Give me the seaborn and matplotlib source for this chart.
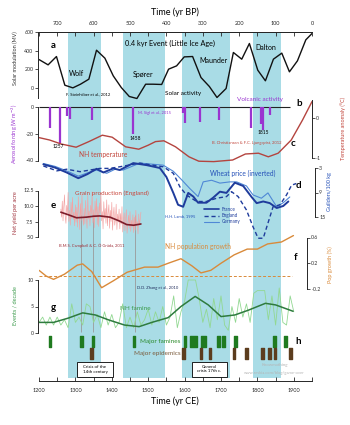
import matplotlib
matplotlib.use('Agg')
import matplotlib.pyplot as plt
import seaborn as sns
from matplotlib.lines import Line2D
from matplotlib.patches import Rectangle

# ---------------- data ----------------
band_start = [1280, 1430, 1592, 1788]
band_end = [1370, 1545, 1725, 1865]
band_names = ["Wolf", "Spører", "Maunder", "Dalton"]

solar_year = [1200, 1225, 1248, 1271, 1293, 1314, 1337, 1358, 1381, 1404, 1426, 1448, 1469, 1493,
              1513, 1537, 1556, 1578, 1599, 1622, 1645, 1668, 1689, 1714, 1734, 1757, 1778, 1801,
              1822, 1844, 1867, 1888, 1910, 1933, 1950]
solar_mod = [305, 247, 338, 25, -4, 36, 91, 407, 320, 127, 0, -98, -120, 36,
             36, 33, 200, 236, 334, 338, 109, 11, -109, -11, 382, 309, 480, 189,
             73, 309, 375, 171, 291, 520, 589]

volc_year = [1230, 1257, 1276, 1286, 1345, 1458, 1595, 1601, 1641, 1695, 1783, 1809, 1815, 1835]
volc_forcing = [-16, -27, -7, -9, -9.5, -20, -4.5, -12, -11, -9.5, -15.5, -13, -17, -6]

temp_year = [1200, 1229, 1261, 1302, 1337, 1374, 1401, 1438, 1474, 1500, 1520, 1543, 1575, 1612,
             1639, 1680, 1732, 1767, 1803, 1830, 1857, 1893, 1924, 1950]
temp_anom = [-0.49, -0.55, -0.65, -0.73, -0.59, -0.43, -0.48, -0.72, -0.78, -0.68, -0.59, -0.57,
             -0.72, -0.97, -1.08, -1.09, -1.05, -0.90, -0.88, -0.97, -0.88, -0.55, -0.05, 0.41]

wheat_countries = ["France", "England", "Germany"]
france_year = [1212, 1244, 1276, 1308, 1333, 1358, 1377, 1404, 1422, 1459, 1496, 1532, 1550, 1569,
               1582, 1596, 1610, 1624, 1637, 1660, 1678, 1697, 1715, 1738, 1761, 1784, 1798, 1816,
               1834, 1853, 1871, 1885]
france_price = [2.1, 2.9, 4.1, 5.5, 4.5, 3.2, 4.1, 3.1, 3.5, 1.8, 2.3, 3.0, 5.2, 9.1,
                12.0, 12.5, 9.1, 10.0, 11.5, 11.5, 10.3, 8.8, 9.1, 6.6, 7.4, 10.1, 11.6, 11.2,
                11.6, 12.8, 12.3, 11.2]
england_year = [1212, 1249, 1276, 1313, 1340, 1367, 1395, 1422, 1477, 1541, 1569, 1587, 1605, 1633,
                1660, 1688, 1715, 1729, 1747, 1770, 1788, 1802, 1816, 1829, 1843, 1862, 1880, 1894,
                1907]
england_price = [2.5, 3.7, 3.3, 3.9, 3.5, 3.1, 3.1, 2.7, 1.8, 2.7, 4.3, 7.6, 9.6, 11.2,
                 11.2, 10.4, 10.0, 8.8, 10.0, 13.3, 17.4, 20.2, 20.2, 16.5, 12.5, 12.0, 9.6, 7.2,
                 6.8]
germany_year = [1212, 1244, 1276, 1308, 1336, 1358, 1386, 1409, 1431, 1477, 1541, 1569, 1592, 1614,
                1637, 1651, 1674, 1697, 1724, 1743, 1770, 1788, 1811, 1829, 1853, 1871, 1889]
germany_price = [1.9, 2.6, 3.7, 5.0, 4.1, 3.5, 4.3, 3.3, 3.5, 1.8, 2.3, 3.8, 5.9, 8.0,
                 10.0, 6.4, 6.0, 6.7, 6.4, 6.4, 7.4, 9.6, 10.4, 9.1, 12.5, 11.5, 10.1]

grain_year = list(range(1260, 1481, 2))
grain_yield = [9.5, 8.2, 10.8, 7.6, 9.9, 11.8, 8.4, 7.2, 10.1, 8.8, 12.2, 7.5, 9.3, 6.9, 10.6, 8.0,
               11.4, 7.8, 9.0, 6.8, 10.2,
               7.4, 9.8, 6.6, 11.5, 8.9, 6.2, 10.4, 7.7, 12.0, 8.5, 6.9, 9.6, 7.1, 10.9, 8.2, 6.4,
               11.8, 7.9, 9.2, 6.8,
               10.1, 8.6, 12.3, 7.3, 9.4, 6.5, 10.8, 8.1, 11.2, 7.0, 9.9, 6.7, 10.5, 8.8, 12.1, 7.6,
               9.1, 6.3, 10.7, 8.0,
               9.6, 7.2, 11.0, 6.8, 8.9, 10.2, 6.4, 9.3, 7.5, 10.6, 6.1, 8.4, 9.8, 6.9, 7.8, 10.3,
               6.2, 8.7, 7.4, 9.5,
               6.3, 8.8, 7.1, 9.9, 5.8, 7.6, 8.9, 6.0, 7.9, 9.4, 5.6, 7.2, 8.5, 6.4, 9.1, 5.9,
               7.7, 6.6, 8.6, 5.7,
               8.2, 6.1, 9.3, 6.8, 7.5, 5.5, 8.7, 6.9, 7.8, 9.0]
grain_smooth_year = [1260, 1280, 1303, 1330, 1350, 1367, 1395, 1420, 1441, 1460, 1480]
grain_smooth = [9.0, 8.6, 8.1, 8.2, 8.35, 8.4, 8.2, 7.6, 7.0, 6.9, 7.1]

pop_year = [1200, 1220, 1240, 1270, 1305, 1320, 1345, 1372, 1405, 1442, 1490, 1527, 1555, 1590,
            1620, 1645, 1672, 1700, 1736, 1772, 1800, 1828, 1866, 1899]
pop_growth = [0.09, 0.0, -0.05, 0.03, 0.17, 0.19, 0.07, -0.18, -0.07, 0.06, 0.14, 0.14, 0.2, 0.27,
              0.16, 0.05, 0.09, 0.2, 0.33, 0.42, 0.42, 0.5, 0.53, 0.63]

famine_decade = list(range(1200, 1901, 10))
famine_events = [2.0, 3.0, 1.5, 3.0, 1.5, 3.0, 1.5, 2.5, 1.0, 5.5, 2.0, 3.0, 1.5, 5.5, 5.0, 2.0,
                 3.5, 1.0, 4.0, 1.5, 3.5, 1.0, 2.0, 5.5, 1.0, 3.0, 1.0, 4.0, 1.5, 2.5, 4.5, 1.5,
                 4.0, 2.0, 5.0, 1.5, 3.0, 7.0, 1.0, 4.0, 6.0, 10.0, 10.0, 10.0, 6.5, 2.0, 4.5, 1.0,
                 6.5, 2.5, 7.0, 1.5, 0.5, 5.0, 2.0, 6.5, 3.0, 5.5, 2.0, 7.5, 8.0, 8.0, 8.0, 2.5,
                 7.0, 1.5, 8.5, 2.0, 1.5, 7.0, 4.0]
famine_smooth_year = [1200, 1240, 1280, 1320, 1355, 1390, 1435, 1475, 1510, 1555, 1590, 1629, 1665,
                      1700, 1738, 1775, 1822, 1850, 1898]
famine_smooth = [2.0, 2.0, 2.8, 3.8, 3.4, 2.5, 1.5, 1.2, 2.0, 2.9, 5.0, 6.9, 5.3,
                 3.1, 3.4, 4.3, 5.6, 5.3, 4.1]

major_famine_start = [1228, 1314, 1346, 1459, 1597, 1616, 1645, 1690, 1704, 1737, 1844, 1874]
major_famine_end = [1234, 1320, 1352, 1465, 1603, 1633, 1660, 1696, 1710, 1743, 1850, 1880]
epidemic_start = [1341, 1594, 1641, 1666, 1733, 1767, 1811, 1830, 1845, 1888]
epidemic_end = [1347, 1600, 1647, 1672, 1739, 1773, 1817, 1836, 1851, 1894]
crisis_years = [1315, 1348, 1463]

ce_ticks = [1200, 1300, 1400, 1500, 1600, 1700, 1800, 1900]
bp_ticks = [700, 600, 500, 400, 300, 200, 100, 0]

# ---------------- style ----------------
sns.set_theme(style='ticks')
plt.rcParams['font.family'] = ['Lato', 'DejaVu Sans']
plt.rcParams['axes.linewidth'] = 0.7

W, H = 350, 425
XL, XR = 39, 312
fig = plt.figure(figsize=(3.5, 4.25), dpi=100)
fig.patch.set_facecolor('white')

BAND = '#a9dce6'
PURPLE = '#9a34d0'
TRED = '#b4443f'
BLUE_D = '#1f3c9c'
BLUE_L = '#4f88d6'
GR_L = '#f3a3a3'
GR_D = '#7d1c2a'
ORANGE = '#d98a3a'
GREEN_L = '#92d892'
GREEN_D = '#2e7b3e'


def T(px, py, s, size=4.5, color='black', **kw):
    fig.text(px / W, 1 - py / H, s, ha='center', va='center', fontsize=size, color=color, **kw)


# background axis: bands + time axes (y in pixel units)
bg = fig.add_axes([XL / W, 1 - 381 / H, (XR - XL) / W, (381 - 31.5) / H])
bg.set_xlim(1200, 1950)
bg.set_ylim(381, 31.5)
for s, e in zip(band_start, band_end):
    bg.axvspan(s, e, ymin=0.008, ymax=1, color=BAND, lw=0, zorder=0)
bg.spines['left'].set_visible(False)
bg.spines['right'].set_visible(False)
bg.set_yticks([])
bg.set_xticks(ce_ticks)
bg.set_xticklabels([str(t) for t in ce_ticks])
bg.set_xticks(list(range(1250, 1951, 100)), minor=True)
bg.tick_params(axis='x', which='both', direction='in', length=3, width=0.6, labelsize=4, pad=5)
bg.vlines(crisis_years, 215, 332, color='#9a9a9a', lw=0.6, zorder=1)

top = bg.twiny()
top.set_xlim(750, 0)
top.set_xticks(bp_ticks)
top.set_xticklabels([str(t) for t in bp_ticks])
top.set_xticks(list(range(750, -1, -100)), minor=True)
top.tick_params(axis='x', which='both', direction='in', length=3, width=0.6, labelsize=4, pad=4)
for k in ['left', 'right', 'bottom']:
    top.spines[k].set_visible(False)

T(175, 12.5, 'Time (yr BP)', size=6.5)
T(175, 401, 'Time (yr CE)', size=6.5)


def panel(ptop, pbot, v1, p1, v2, p2, side='left', pos=None, bounds=None, ticks=None, labels=None):
    ax = fig.add_axes([XL / W, 1 - pbot / H, (XR - XL) / W, (pbot - ptop) / H])
    s = (v2 - v1) / (p2 - p1)
    ax.set_ylim(v1 + (pbot - p1) * s, v1 + (ptop - p1) * s)
    ax.set_xlim(1200, 1950)
    ax.patch.set_visible(False)
    for k, sp in ax.spines.items():
        sp.set_visible(k == side)
    ax.set_xticks([])
    if side == 'right':
        ax.yaxis.tick_right()
    else:
        ax.spines['left'].set_position(('outward', 1))
    if pos is not None:
        ax.spines[side].set_position(('axes', pos))
    if bounds is not None:
        ax.spines[side].set_bounds(*bounds)
    if ticks is not None:
        ax.set_yticks(ticks)
        ax.set_yticklabels(labels if labels else [str(t) for t in ticks])
    ax.tick_params(axis='y', labelsize=3.8, length=2, width=0.6, pad=1, colors='#333333')
    return ax


def clean(ax):
    ax.set_xlabel('')
    ax.set_ylabel('')


# a: solar modulation
axa = panel(32, 100, 600, 32.5, 0, 87.5, bounds=(-110, 600), ticks=[0, 200, 400, 600])
sns.lineplot(x=solar_year, y=solar_mod, ax=axa, color='#111111', lw=1.0)
clean(axa)

# b: volcanic forcing
axb = panel(104, 163, 0, 107, -40, 160.5, bounds=(-40, 0), ticks=[-40, -20, 0])
axb.hlines(0, 1200, 1890, color='#222222', lw=0.8)
axb.vlines(volc_year, 0, volc_forcing, color=PURPLE, lw=1.6)
clean(axb)

# c: NH temperature
axc = panel(100, 166, 0, 118, -1, 158, side='right', bounds=(-1, 0.45), ticks=[-1, 0])
sns.lineplot(x=temp_year, y=temp_anom, ax=axc, color=TRED, lw=1.0)
clean(axc)

# d: wheat price (inverted)
axd = panel(160, 242, 3, 168, 15, 217, side='right', pos=1.011, bounds=(3, 15), ticks=[3, 9, 15])
sns.lineplot(x=germany_year, y=germany_price, ax=axd, color=BLUE_L, lw=0.8)
sns.lineplot(x=england_year, y=england_price, ax=axd, color=BLUE_D, lw=1.0, linestyle=(0, (3, 2)))
sns.lineplot(x=france_year, y=france_price, ax=axd, color=BLUE_D, lw=1.4)
clean(axd)
handles = [Line2D([], [], color=BLUE_D, lw=1.2),
           Line2D([], [], color=BLUE_D, lw=1.0, linestyle=(0, (3, 2))),
           Line2D([], [], color=BLUE_L, lw=0.8)]
fig.legend(handles, wheat_countries, loc='upper left', bbox_to_anchor=(204 / W, 1 - 207 / H),
           frameon=False, fontsize=3.3, handlelength=3.2, labelspacing=0.25, handletextpad=0.6,
           borderpad=0, borderaxespad=0, labelcolor='#1f3c9c')

# e: grain production
axe = panel(185, 240, 12.5, 190.5, 5, 237, bounds=(5, 12.5), ticks=[5, 7.5, 10, 12.5],
            labels=['5.0', '7.5', '10.0', '12.5'])
sns.lineplot(x=grain_year, y=grain_yield, ax=axe, color=GR_L, lw=0.45)
sns.lineplot(x=grain_smooth_year, y=grain_smooth, ax=axe, color=GR_D, lw=1.2)
clean(axe)

# f: population growth
axf = panel(232, 292, 0.6, 237.5, -0.2, 289, side='right', pos=0.982, bounds=(-0.2, 0.6),
            ticks=[-0.2, 0.2, 0.6])
axf.hlines(0, 1200, 1895, color=ORANGE, lw=0.7, linestyles=(0, (3, 2)))
sns.lineplot(x=pop_year, y=pop_growth, ax=axf, color=ORANGE, lw=1.0)
clean(axf)

# g: famine events
axg = panel(275, 335, 10, 280, 0, 333, bounds=(0, 10), ticks=[0, 5, 10])
sns.lineplot(x=famine_decade, y=famine_events, ax=axg, color=GREEN_L, lw=0.6)
sns.lineplot(x=famine_smooth_year, y=famine_smooth, ax=axg, color=GREEN_D, lw=1.1)
clean(axg)

# h: major famines / epidemics
bg.broken_barh([(s, e - s) for s, e in zip(major_famine_start, major_famine_end)], (336, 11),
               color='#1f7a1f', zorder=3)
bg.broken_barh([(s, e - s) for s, e in zip(epidemic_start, epidemic_end)], (348, 10.5),
               color='#5c3d1e', zorder=3)

# crisis boxes
bg.add_patch(Rectangle((1304, 362), 99, 15, facecolor='white', edgecolor='black', lw=0.6, zorder=4))
bg.add_patch(Rectangle((1620, 362), 96, 15, facecolor='white', edgecolor='black', lw=0.6, zorder=4))
T(95, 369.5, 'Crisis of the\n14th century', size=3.2, linespacing=1.0, zorder=5)
T(209.5, 369.5, 'General\ncrisis 17th c.', size=3.2, linespacing=1.0, zorder=5)

# ---------------- annotations ----------------
T(53, 45, 'a', size=7, weight='bold')
T(170, 43, '0.4 kyr Event (Little Ice Age)', size=5.2)
T(77, 73, band_names[0], size=5)
T(143, 74, band_names[1], size=5)
T(214, 60.5, band_names[2], size=5)
T(266, 48, band_names[3], size=5)
T(88, 94, 'F. Steinhilber et al., 2012', size=3)
T(183, 94, 'Solar activity', size=4.6)

T(260, 100, 'Volcanic activity', size=4.6, color=PURPLE)
T(299, 104, 'b', size=7, weight='bold')
T(155, 113, 'M. Sigl et al., 2015', size=3, color=PURPLE)
T(58, 147, '1257', size=3.5)
T(135, 138, '1458', size=3.5)
T(263, 133, '1815', size=3.5)

T(103, 155, 'NH temperature', size=4.8, color='#c2463c')
T(247, 143, 'B. Christiansen & F.C. Ljungqvist, 2012', size=3, color='#c2463c')
T(293, 144, 'c', size=7, weight='bold')

T(243, 173, 'Wheat price (inverted)', size=4.8, color='#2450b8')
T(298, 185, 'd', size=7, weight='bold')
T(180, 216, 'H.H. Lamb, 1995', size=3, color='#2450b8')

T(112, 193, 'Grain production (England)', size=4.5, color='#c9473d')
T(53, 205, 'e', size=7, weight='bold')
T(92, 246, 'B.M.S. Campbell & C. Ó Gráda, 2011', size=3, color='#a0303a')

T(198, 246, 'NH population growth', size=4.8, color=ORANGE)
T(296, 258, 'f', size=7, weight='bold')

T(158, 288, 'D.D. Zhang et al., 2010', size=3, color='#23305e')
T(53, 308, 'g', size=7, weight='bold')
T(135, 308, 'NH famine', size=4.6, color='#3a9a4a')

T(160, 342, 'Major famines', size=4.6, color='#2a8a2a')
T(157, 354, 'Major epidemics', size=4.6, color='#7a5a3a')
T(298, 342, 'h', size=7, weight='bold')

T(275, 365, 'Knowmathing', size=3.2, color='#b5b5b5')
T(274, 373, 'www.reskia.com/blog/game-over', size=3, color='#b5b5b5')

# axis titles (rotated)
T(15, 58, 'Solar modulation (MV)', size=4, color='#333333', rotation=90)
T(15, 134, 'Aerosol forcing (W m$^{-2}$)', size=4, color=PURPLE, rotation=90)
T(15, 213, 'Net yield per acre', size=4, color='#a0303a', rotation=90)
T(15, 306, 'Events / decade', size=4, color='#3a9a4a', rotation=90)
T(343, 128, 'Temperature anomaly (°C)', size=4, color='#c2463c', rotation=90)
T(330, 192, 'Guilders/100 kg', size=4, color='#2450b8', rotation=90)
T(330, 265, 'Pop growth (%)', size=4, color=ORANGE, rotation=90)

fig.savefig('out.png', dpi=100)
